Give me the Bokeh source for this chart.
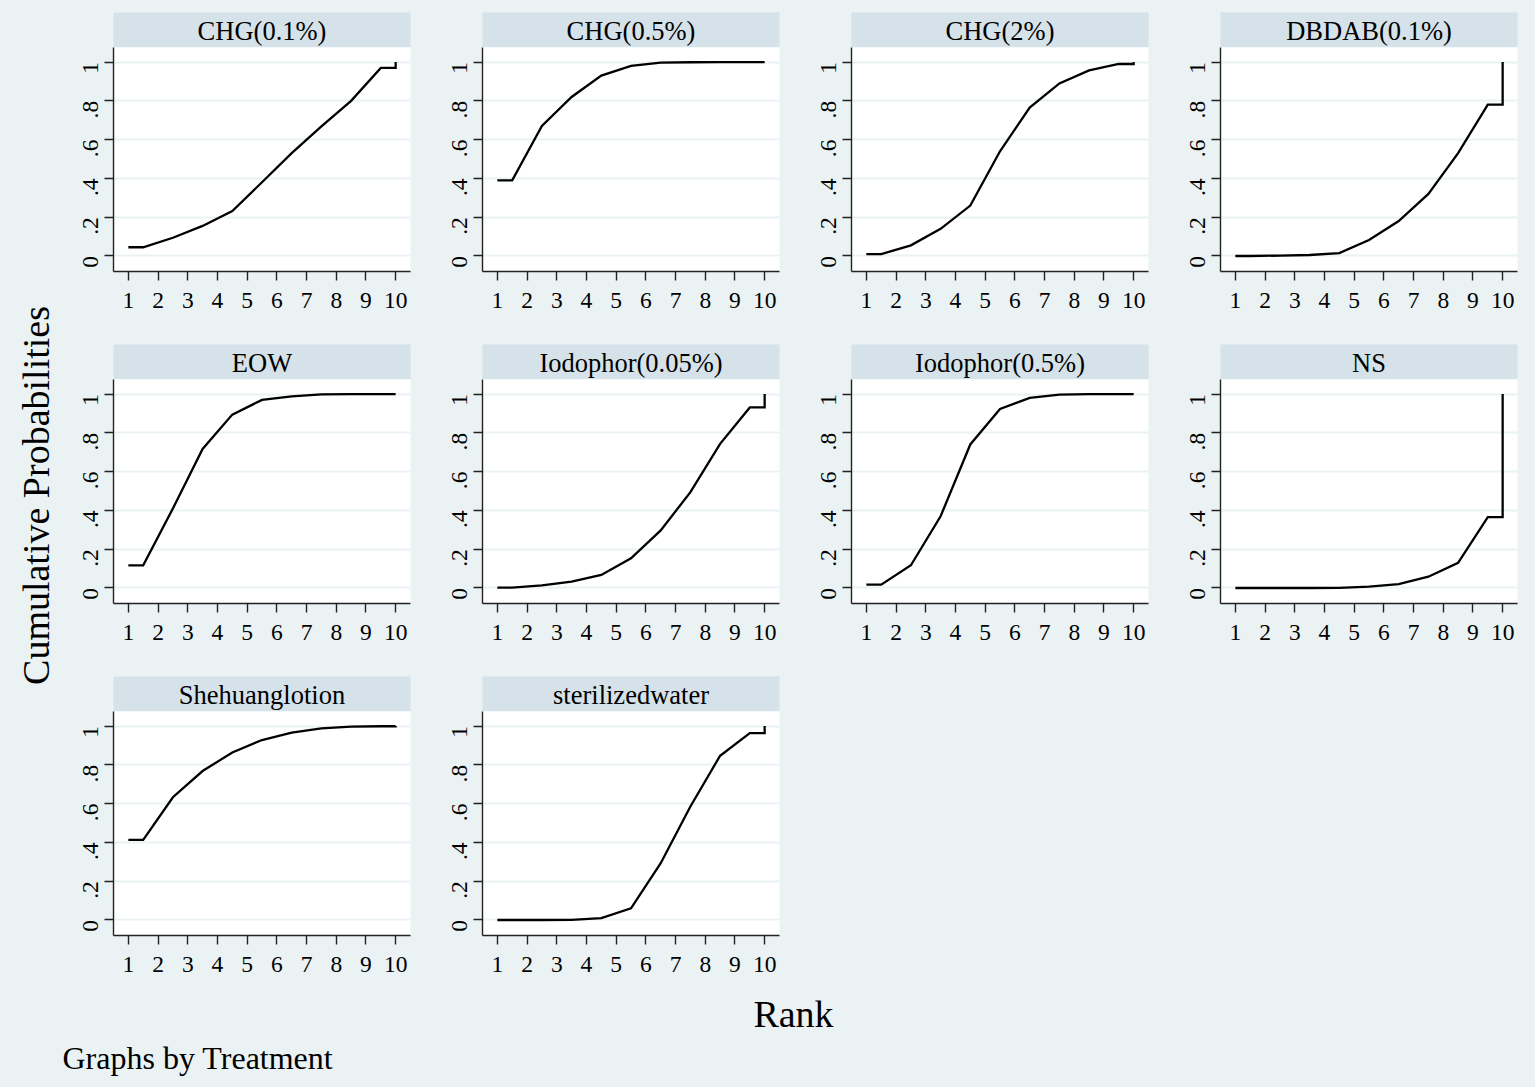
import math
from bokeh.plotting import figure
from bokeh.layouts import column, row
from bokeh.models import Range1d, FixedTicker, CustomJSTickFormatter, Label, Spacer
from bokeh.embed import file_html
from bokeh.resources import INLINE

# ---------------- data ----------------
treatments = ["CHG(0.1%)", "CHG(0.5%)", "CHG(2%)", "DBDAB(0.1%)",
              "EOW", "Iodophor(0.05%)", "Iodophor(0.5%)", "NS",
              "Shehuanglotion", "sterilizedwater"]
ranks = [1, 2, 3, 4, 5, 6, 7, 8, 9, 10]
x_ticks = [1, 2, 3, 4, 5, 6, 7, 8, 9, 10]
y_ticks = [0, 0.2, 0.4, 0.6, 0.8, 1]

# cumulative probabilities of ranks 1..9 (rank 10 is always 1)
chg_01 = [0.045, 0.094, 0.155, 0.232, 0.38, 0.53, 0.668, 0.80, 0.97]
chg_05 = [0.39, 0.67, 0.82, 0.93, 0.98, 0.997, 0.999, 1.0, 1.0]
chg_2 = [0.01, 0.055, 0.14, 0.26, 0.54, 0.765, 0.89, 0.957, 0.99]
dbdab_01 = [0.0, 0.002, 0.005, 0.015, 0.082, 0.18, 0.32, 0.53, 0.78]
eow = [0.117, 0.41, 0.717, 0.894, 0.97, 0.988, 0.998, 1.0, 1.0]
iodophor_005 = [0.002, 0.013, 0.033, 0.067, 0.153, 0.297, 0.494, 0.743, 0.931]
iodophor_05 = [0.017, 0.117, 0.37, 0.74, 0.923, 0.98, 0.997, 1.0, 1.0]
ns = [0.0, 0.0, 0.0, 0.001, 0.007, 0.02, 0.058, 0.13, 0.365]
shehuang = [0.413, 0.633, 0.768, 0.864, 0.928, 0.966, 0.988, 0.997, 0.999]
sterile_water = [0.0, 0.0, 0.001, 0.01, 0.06, 0.293, 0.585, 0.847, 0.964]

series = [chg_01, chg_05, chg_2, dbdab_01, eow, iodophor_005,
          iodophor_05, ns, shehuang, sterile_water]

# ---------------- style ----------------
BG = "#EAF2F3"
STRIP = "#D6E2E9"
FONT = "Liberation Serif"
L, L1, R, FW, FH, SH = 64, 47, 8, 297, 224, 35
YL_W = 66
TOP = 12


def step_xy(cum):
    xs = [ranks[0]] + [r + 0.5 for r in ranks[:-1]] + [ranks[-1], ranks[-1]]
    ys = [cum[0]] + list(cum) + [cum[-1], 1.0]
    return xs, ys


def panel(name, cum, bottom, left):
    pw = left + FW + R
    strip = figure(width=pw, height=SH, x_range=Range1d(0, 1), y_range=Range1d(0, 1),
                   x_axis_type=None, y_axis_type=None,
                   min_border_left=left, min_border_right=R, min_border_top=0, min_border_bottom=0,
                   toolbar_location=None, output_backend="svg",
                   background_fill_color=STRIP, border_fill_color=BG, outline_line_color=None)
    strip.add_layout(Label(x=0.5, y=0.46, text=name, text_align="center", text_baseline="middle",
                           text_font=FONT, text_font_size="26.5px", text_color="black"))

    p = figure(width=pw, height=FH + bottom, x_range=Range1d(0.5, 10.5), y_range=Range1d(-0.08, 1.075),
               min_border_left=left, min_border_right=R, min_border_top=0, min_border_bottom=bottom,
               toolbar_location=None, output_backend="svg",
               background_fill_color="white", border_fill_color=BG, outline_line_color=None)
    xs, ys = step_xy(cum)
    p.line(xs, ys, line_color="black", line_width=2.3, line_join="miter")

    p.xaxis.ticker = FixedTicker(ticks=x_ticks)
    p.yaxis.ticker = FixedTicker(ticks=y_ticks)
    p.yaxis.formatter = CustomJSTickFormatter(code="""
        if (tick == 0) return "0";
        if (tick == 1) return "1";
        return tick.toFixed(1).replace(/^0/, "");
    """)
    p.yaxis.major_label_orientation = math.pi / 2
    for ax in (p.xaxis[0], p.yaxis[0]):
        ax.axis_line_color = "#222222"
        ax.axis_line_width = 1.4
        ax.major_tick_line_color = "#222222"
        ax.major_tick_line_width = 1.4
        ax.major_tick_out = 9
        ax.major_tick_in = 0
        ax.minor_tick_line_color = None
        ax.major_label_text_font = FONT
        ax.major_label_text_font_size = "23.5px"
        ax.major_label_text_color = "black"
    p.xaxis.major_label_standoff = 12
    p.yaxis.major_label_standoff = 14
    p.xgrid.visible = False
    p.ygrid.grid_line_color = BG
    p.ygrid.grid_line_width = 2
    return column(strip, p)


rows = []
row_bottoms = []
for i in range(0, len(treatments), 4):
    bottom = 73 if i + 4 < len(treatments) else 50
    row_bottoms.append(bottom)
    rows.append(row(*[panel(treatments[j], series[j], bottom, L1 if j == i else L)
                      for j in range(i, min(i + 4, len(treatments)))]))

grid_h = TOP + sum(SH + FH + b for b in row_bottoms)

yl = figure(width=YL_W, height=grid_h, x_range=Range1d(0, YL_W), y_range=Range1d(0, grid_h),
            x_axis_type=None, y_axis_type=None, min_border=0,
            min_border_left=0, min_border_right=0, min_border_top=0, min_border_bottom=0,
            toolbar_location=None, output_backend="svg",
            background_fill_color=BG, border_fill_color=BG, outline_line_color=None)
yl.add_layout(Label(x=35, y=grid_h - 495, text="Cumulative Probabilities", angle=math.pi / 2,
                    text_align="center", text_baseline="middle",
                    text_font=FONT, text_font_size="38px", text_color="black"))

BW = YL_W + (L1 + FW + R) + 3 * (L + FW + R)
BH = 100
bot = figure(width=BW, height=BH, x_range=Range1d(0, BW), y_range=Range1d(0, BH),
             x_axis_type=None, y_axis_type=None, min_border=0,
             min_border_left=0, min_border_right=0, min_border_top=0, min_border_bottom=0,
             toolbar_location=None, output_backend="svg",
             background_fill_color=BG, border_fill_color=BG, outline_line_color=None)
bot.add_layout(Label(x=793, y=BH - 28, text="Rank", text_align="center", text_baseline="middle",
                     text_font=FONT, text_font_size="38px", text_color="black"))
bot.add_layout(Label(x=62, y=BH - 72, text="Graphs by Treatment", text_align="left", text_baseline="middle",
                     text_font=FONT, text_font_size="32px", text_color="black"))

root = column(row(yl, column(Spacer(width=10, height=TOP), *rows)), bot)

tmpl = """{% block preamble %}<style>html, body { background-color: #EAF2F3; }</style>{% endblock %}"""
open("out.html", "w").write(file_html(root, INLINE, title="Cumulative Probabilities", template=tmpl))
